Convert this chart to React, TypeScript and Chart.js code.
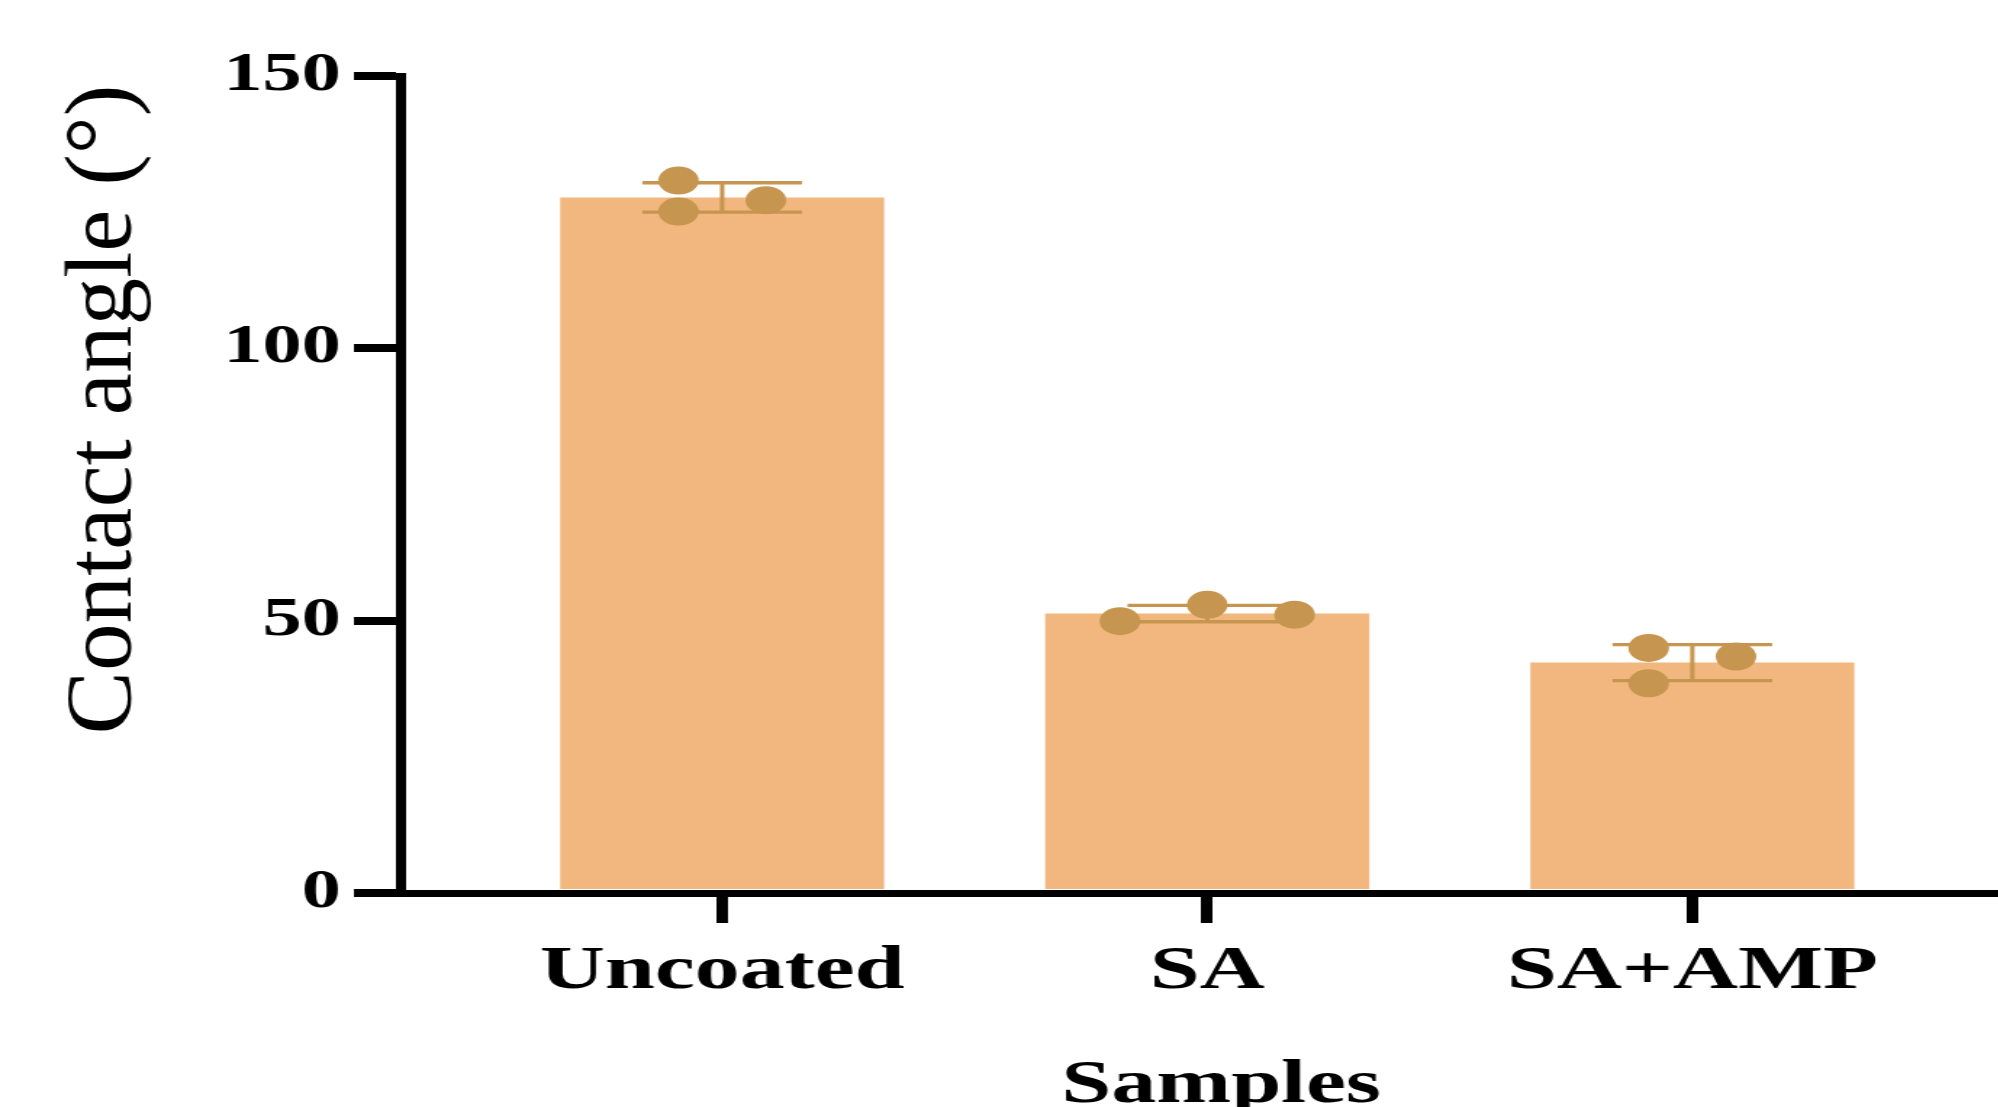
import React, { useEffect, useRef } from 'react';
import { Chart, registerables } from 'chart.js';

Chart.register(...registerables);

// ---- data ----
const categories = ['Uncoated', 'SA', 'SA+AMP'];
const meanValues = [127.7, 51.3, 42.3];
const sdValues = [2.7, 1.5, 3.3];
const replicateValues = [
  [130.8, 125.1, 127.2],
  [49.9, 52.9, 51.1],
  [45.0, 38.5, 43.4],
];
// horizontal jitter of the replicate dots, in category units
const replicateJitter = [
  [-0.09, -0.09, 0.09],
  [-0.18, 0, 0.18],
  [-0.09, -0.09, 0.09],
];
const yTicks = [0, 50, 100, 150];
const yTitle = 'Contact angle (°)';
const xTitle = 'Samples';

// ---- style ----
const STRETCH = 1.45; // the reference figure is stretched horizontally
const VIEW_W = 1998;
const H = 1125;
const W = Math.round(VIEW_W / STRETCH) + 30; // canvas extends past the right edge
const CSS_W = W * STRETCH;
const BAR_COLOR = '#F1B77E';
const DOT_COLOR = '#C6954F';
const SERIF = "'Liberation Serif', 'Times New Roman', serif";

const errorBarPlugin = {
  id: 'errorBars',
  afterDatasetDraw(chart: any, args: any) {
    if (args.index !== 0) return;
    const { ctx, scales } = chart;
    const x = scales.x;
    const y = scales.y;
    ctx.save();
    ctx.strokeStyle = DOT_COLOR;
    meanValues.forEach((m, i) => {
      const cx = x.getPixelForValue(i);
      const top = y.getPixelForValue(m + sdValues[i]);
      const bot = y.getPixelForValue(m - sdValues[i]);
      const half = 55;
      ctx.lineWidth = 3;
      ctx.beginPath();
      ctx.moveTo(cx, top);
      ctx.lineTo(cx, bot);
      ctx.stroke();
      ctx.lineWidth = 3.4;
      ctx.beginPath();
      ctx.moveTo(cx - half, top);
      ctx.lineTo(cx + half, top);
      ctx.moveTo(cx - half, bot);
      ctx.lineTo(cx + half, bot);
      ctx.stroke();
    });
    ctx.restore();
  },
};

const yTitlePlugin = {
  id: 'yTitleUnstretched',
  afterDraw(chart: any) {
    const { ctx } = chart;
    const yScale = chart.scales.y;
    const cy = (yScale.top + yScale.bottom) / 2 - 75;
    ctx.save();
    ctx.translate(72.5, cy);
    ctx.scale(1 / STRETCH, 1);
    ctx.rotate(-Math.PI / 2);
    ctx.font = `95px ${SERIF}`;
    ctx.fillStyle = '#000';
    ctx.textAlign = 'center';
    ctx.textBaseline = 'middle';
    ctx.fillText(yTitle, 0, 0);
    ctx.restore();
  },
};

export default function App() {
  const ref = useRef<HTMLCanvasElement | null>(null);

  useEffect(() => {
    const canvas = ref.current;
    if (!canvas) return;

    const barData = meanValues.map((m, i) => ({ x: i, y: m }));
    const dotData: { x: number; y: number }[] = [];
    replicateValues.forEach((vals, i) => {
      vals.forEach((v, j) => dotData.push({ x: i + replicateJitter[i][j], y: v }));
    });

    const spacing = 485 / STRETCH; // px per category (internal)
    const leftPx = 276;
    const xMin = -((722 / STRETCH) - leftPx) / spacing;
    const xMax = xMin + (W - leftPx) / spacing;

    const chart = new Chart(canvas, {
      type: 'bar',
      data: {
        datasets: [
          {
            type: 'bar',
            label: 'Mean',
            data: barData as any,
            backgroundColor: BAR_COLOR,
            borderWidth: 0,
            barPercentage: 1,
            categoryPercentage: 0.668,
            order: 1,
          },
          {
            type: 'scatter',
            label: 'Replicates',
            data: dotData as any,
            backgroundColor: DOT_COLOR,
            borderWidth: 0,
            pointRadius: 14,
            showLine: false,
            order: 0,
          } as any,
        ],
      },
      options: {
        responsive: false,
        devicePixelRatio: 1,
        animation: false,
        events: [],
        layout: {
          autoPadding: false,
          padding: { top: 76, right: 0, left: 0, bottom: 0 },
        },
        plugins: {
          legend: { display: false },
          tooltip: { enabled: false },
          title: { display: false },
        },
        scales: {
          x: {
            type: 'linear',
            position: 'bottom',
            min: xMin,
            max: xMax,
            offset: false,
            z: 1,
            afterBuildTicks: (scale: any) => {
              scale.ticks = categories.map((_, i) => ({ value: i }));
            },
            afterFit: (scale: any) => {
              scale.height = H - 893;
            },
            border: { display: true, color: '#000', width: 7 },
            grid: {
              offset: false,
              drawOnChartArea: false,
              drawTicks: true,
              tickLength: 30,
              lineWidth: 8,
              color: '#000',
            },
            ticks: {
              autoSkip: false,
              maxRotation: 0,
              minRotation: 0,
              padding: 12,
              color: '#000',
              font: { family: SERIF, size: 62, weight: 'bold' },
              callback: (_v: any, i: number) => categories[i],
            },
            title: {
              display: true,
              text: xTitle,
              color: '#000',
              font: { family: SERIF, size: 62, weight: 'bold' },
              padding: { top: 0, bottom: 2 },
            },
          } as any,
          y: {
            type: 'linear',
            min: 0,
            max: 150,
            z: 1,
            afterBuildTicks: (scale: any) => {
              scale.ticks = yTicks.map((v) => ({ value: v }));
            },
            afterFit: (scale: any) => {
              scale.width = leftPx;
            },
            border: { display: true, color: '#000', width: 7 },
            grid: {
              drawOnChartArea: false,
              drawTicks: true,
              tickLength: 32,
              lineWidth: 8,
              color: '#000',
            },
            ticks: {
              padding: 9,
              color: '#000',
              font: { family: SERIF, size: 54, weight: 'bold' },
            },
            title: { display: false },
          } as any,
        },
      },
      plugins: [errorBarPlugin, yTitlePlugin],
    });

    return () => chart.destroy();
  }, []);

  return (
    <div
      style={{
        position: 'fixed',
        left: 0,
        top: 0,
        width: VIEW_W,
        height: 1107,
        overflow: 'hidden',
        background: '#fff',
      }}
    >
      <canvas
        ref={ref}
        width={W}
        height={H}
        style={{ width: `${CSS_W}px`, height: `${H}px`, display: 'block' }}
      />
    </div>
  );
}
